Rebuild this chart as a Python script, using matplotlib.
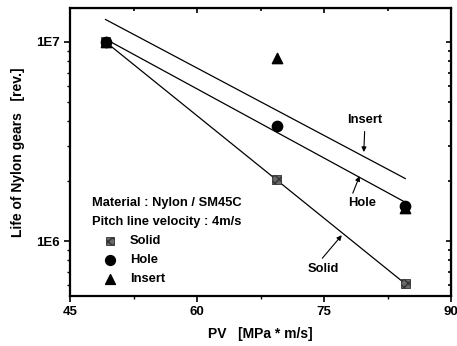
import numpy as np
import matplotlib
matplotlib.use('Agg')
import matplotlib.pyplot as plt
from matplotlib.ticker import FixedLocator, NullFormatter, LogLocator

plt.rcParams['font.family'] = ['Liberation Sans', 'DejaVu Sans']
plt.rcParams['font.weight'] = 'bold'

# Data
pv = [49.2, 69.4, 84.6]
life_solid = [1.0e7, 2.03e6, 6.1e5]
life_hole = [1.0e7, 3.8e6, 1.5e6]
life_insert = [1.0e7, 8.3e6, 1.46e6]

fig = plt.figure(figsize=(4.57, 3.46), dpi=100)
ax = fig.add_axes([70 / 457, 50 / 346, 381 / 457, 288 / 346])

# Fitted lines: log10(life) linear in PV
for life in [life_solid, life_hole, life_insert]:
    k, b = np.polyfit(pv, np.log10(life), 1)
    xs = np.array([pv[0], pv[-1]])
    ax.plot(xs, 10 ** (k * xs + b), color='black', linewidth=0.9, zorder=2)

ax.scatter(pv, life_solid, marker='s', s=42, facecolor='#6a6a6a',
           edgecolor='#333333', hatch='xxxx', linewidth=0.6, zorder=5)
ax.scatter(pv, life_hole, marker='o', s=55, color='black', zorder=5)
ax.scatter(pv, life_insert, marker='^', s=55, color='black', zorder=5)

ax.set_yscale('log')
ax.set_xlim(45, 90)
ax.set_ylim(5.3e5, 1.48e7)
ax.set_xticks([45, 60, 75, 90])
ax.xaxis.set_minor_locator(FixedLocator([52.5, 67.5, 82.5]))
ax.set_yticks([1e6, 1e7])
ax.set_yticklabels(['1E6', '1E7'])
ax.yaxis.set_minor_locator(LogLocator(base=10, subs=np.arange(2, 10)))
ax.yaxis.set_minor_formatter(NullFormatter())

ax.tick_params(axis='both', which='major', labelsize=9.5, width=1.2, length=4)
ax.tick_params(axis='both', which='minor', width=1.0, length=2.5)
ax.tick_params(axis='x', which='both', direction='out', top=False)
ax.tick_params(axis='y', which='both', direction='out', right=False)
for s in ax.spines.values():
    s.set_linewidth(1.6)

# Mirror ticks on top/right, pointing inward
axt = ax.secondary_xaxis('top')
axt.set_xticks([45, 60, 75, 90])
axt.xaxis.set_minor_locator(FixedLocator([52.5, 67.5, 82.5]))
axt.tick_params(which='both', direction='in', labeltop=False, width=1.2)
axt.tick_params(which='minor', length=2.5)
axr = ax.secondary_yaxis('right')
axr.set_yticks([1e6, 1e7])
axr.yaxis.set_minor_locator(LogLocator(base=10, subs=np.arange(2, 10)))
axr.yaxis.set_minor_formatter(NullFormatter())
axr.tick_params(which='both', direction='in', labelright=False, width=1.2)
axr.tick_params(which='minor', length=2.5)

ax.set_xlabel('PV   [MPa * m/s]', fontsize=10, fontweight='bold', labelpad=6)
ax.set_ylabel('Life of Nylon gears   [rev.]', fontsize=10, fontweight='bold', labelpad=8)

# Legend block
ax.text(0.058, 0.323, 'Material : Nylon / SM45C', transform=ax.transAxes,
        fontsize=9.3, va='center')
ax.text(0.058, 0.258, 'Pitch line velocity : 4m/s', transform=ax.transAxes,
        fontsize=9.3, va='center')
legend_items = [('Solid', 's'), ('Hole', 'o'), ('Insert', '^')]
for i, (name, mk) in enumerate(legend_items):
    yy = 0.19 - i * 0.066
    if mk == 's':
        ax.scatter([0.105], [yy], transform=ax.transAxes, marker='s', s=36,
                   facecolor='#6a6a6a', edgecolor='#333333', hatch='xxxx',
                   linewidth=0.6, clip_on=False)
    else:
        ax.scatter([0.105], [yy], transform=ax.transAxes, marker=mk, s=50,
                   color='black', clip_on=False)
    ax.text(0.157, yy, name, transform=ax.transAxes, fontsize=9.3, va='center')

# Line labels with arrows
arrow = dict(arrowstyle='-|>', color='black', lw=0.8, mutation_scale=7,
             shrinkA=0, shrinkB=0)
ax.text(79.8, 4.05e6, 'Insert', fontsize=9.3, ha='center', va='center')
ax.annotate('', xy=(79.7, 2.8e6), xytext=(79.8, 3.55e6), arrowprops=arrow)
ax.text(79.5, 1.55e6, 'Hole', fontsize=9.3, ha='center', va='center')
ax.annotate('', xy=(79.2, 2.12e6), xytext=(78.4, 1.74e6), arrowprops=arrow)
ax.text(74.9, 7.2e5, 'Solid', fontsize=9.3, ha='center', va='center')
ax.annotate('', xy=(77.1, 1.07e6), xytext=(74.8, 8.2e5), arrowprops=arrow)

fig.savefig('out.png', dpi=100)
